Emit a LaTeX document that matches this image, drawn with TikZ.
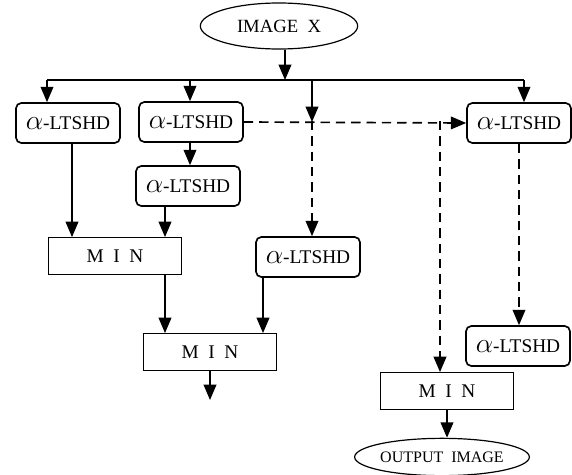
\documentclass[tikz,border=0pt]{standalone}
\usepackage{fontspec}
\setmainfont{Liberation Serif}
\usepackage{tikz}
\usetikzlibrary{arrows.meta, shapes.geometric}
\tikzset{>={Triangle[length=11.5pt,width=9.5pt]}}
\tikzset{
  lbox/.style={draw, rounded corners=4pt, minimum width=78pt, minimum height=30pt, inner sep=0pt, font=\fontsize{14.5}{16}\selectfont},
  minbox/.style={draw, minimum width=100pt, minimum height=27.5pt, inner sep=0pt, font=\fontsize{14.5}{16}\selectfont},
  oval/.style={draw, ellipse, inner sep=0pt},
  dash line/.style={dash pattern=on 7pt off 4.5pt}
}
\newcommand{\ltshd}{{\fontsize{22}{22}\selectfont$\alpha$}-LTSHD}
\newcommand{\minlbl}{M\hspace{0.5em}I\hspace{0.5em}N}

\begin{document}
\begin{tikzpicture}[x=0.75pt, y=-0.75pt, line width=1.25pt]
		\useasboundingbox (0,0) rectangle (572,475);
		% input and output
		\node[oval, line width=0.9pt, minimum width=118pt, minimum height=34.5pt, font=\fontsize{14}{16}\selectfont] (img) at (279,26) {IMAGE\ \ X};
		\node[oval, line width=0.9pt, minimum width=127pt, minimum height=28pt, font=\fontsize{12}{14}\selectfont] (out) at (442,457) {OUTPUT\ \ IMAGE};
		% filters
		\node[lbox] (L1) at (68,123) {\ltshd};
		\node[lbox] (L2) at (191,122) {\ltshd};
		\node[lbox] (L3) at (519,123) {\ltshd};
		\node[lbox] (L4) at (188,186) {\ltshd};
		\node[lbox] (L5) at (308,257) {\ltshd};
		\node[lbox] (L6) at (518,346) {\ltshd};
		% min blocks
		\node[minbox, line width=0.9pt] (M1) at (115,256) {\minlbl};
		\node[minbox, line width=0.9pt] (M2) at (210,352) {\minlbl};
		\node[minbox, line width=0.9pt] (M3) at (447,391) {\minlbl};
		% helper points
		\coordinate (b0) at (285,80);
		\coordinate (b1) at (47,80);
		\coordinate (b2) at (190,80);
		\coordinate (b3) at (312,80);
		\coordinate (b4) at (524,80);
		\coordinate (d3) at (312,121);
		\coordinate (d4) at (440,121);
		\coordinate (c1) at (72,0);
		\coordinate (c2) at (165,0);
		\coordinate (c3) at (263,0);
		\coordinate (end) at (210,400);
		% solid connectors
		\draw [->](img.south -| b0)--(b0);
		\draw [line width=0.9pt](b1)--(b4);
		\draw [->](b1)--(b1 |- L1.north);
		\draw [->](b2)--(b2 |- L2.north);
		\draw [->](b3)--(b3 |- L2.east);
		\draw [->](b4)--(b4 |- L3.north);
		\draw [->](L2.south -| b2)--(L4.north -| b2);
		\draw [->](L1.south -| c1)--(M1.north -| c1);
		\draw [->](L4.south -| c2)--(M1.north -| c2);
		\draw [->](M1.south -| c2)--(M2.north -| c2);
		\draw [->](L5.south -| c3)--(M2.north -| c3);
		\draw [->](M2.south)--(end);
		\draw [->](M3.south)--(M3.south |- out.north);
		% dashed connectors
		\draw [->, dash line](L2.east)--(L3.west);
		\draw [->, dash line](d3)--(d3 |- L5.north);
		\draw [->, dash line](d4)--(d4 |- M3.north);
		\draw [->, dash line](L3.south)--(L3.south |- L6.north);
\end{tikzpicture}
\end{document}
